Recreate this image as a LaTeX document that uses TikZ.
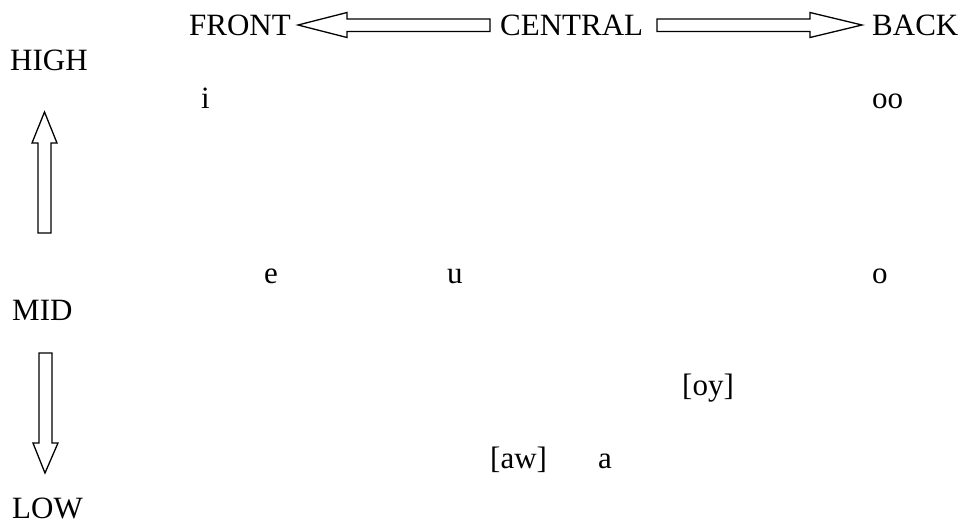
\documentclass[tikz,border=0pt]{standalone}
\usepackage{fontspec}
\setmainfont{Liberation Serif}
\begin{document}
\begin{tikzpicture}[x=1pt,y=1pt,
  lbl/.style={anchor=base west,inner sep=0pt,font=\fontsize{31}{36}\selectfont},
  blockarrow/.style={draw=black,line width=1.3pt,fill=white,line join=miter}]
\useasboundingbox (0,0) rectangle (964,-523);
% labels
\node[lbl] (front) at (189,-35) {FRONT};
\node[lbl] (central) at (500,-35) {CENTRAL};
\node[lbl] (back) at (872,-35) {BACK};
\node[lbl] (high) at (10,-70) {HIGH};
\node[lbl] (mid) at (12,-320) {MID};
\node[lbl] (low) at (12,-518) {LOW};
% vowels
\node[lbl] (vi) at (201,-108) {i};
\node[lbl] (voo) at (872,-108) {oo};
\node[lbl] (ve) at (264,-283) {e};
\node[lbl] (vu) at (447,-283) {u};
\node[lbl] (vo) at (872,-283) {o};
\node[lbl] (voy) at (682,-395) {[oy]};
\node[lbl] (vaw) at (490,-468) {[aw]};
\node[lbl] (va) at (598,-468) {a};
% left block arrow (toward FRONT)
\draw[blockarrow] (298,-25) -- (347,-12.5) -- (347,-19) -- (490,-19) -- (490,-31.5) -- (347,-31.5) -- (347,-37.5) -- cycle;
% right block arrow (toward BACK)
\draw[blockarrow] (862,-25) -- (810,-12.5) -- (810,-19) -- (657,-19) -- (657,-31.5) -- (810,-31.5) -- (810,-37.5) -- cycle;
% up block arrow
\draw[blockarrow] (44.5,-112) -- (57,-143) -- (51,-143) -- (51,-233) -- (38,-233) -- (38,-143) -- (32,-143) -- cycle;
% down block arrow
\draw[blockarrow] (45,-473) -- (58,-443) -- (52,-443) -- (52,-353) -- (39,-353) -- (39,-443) -- (33,-443) -- cycle;
\end{tikzpicture}
\end{document}
